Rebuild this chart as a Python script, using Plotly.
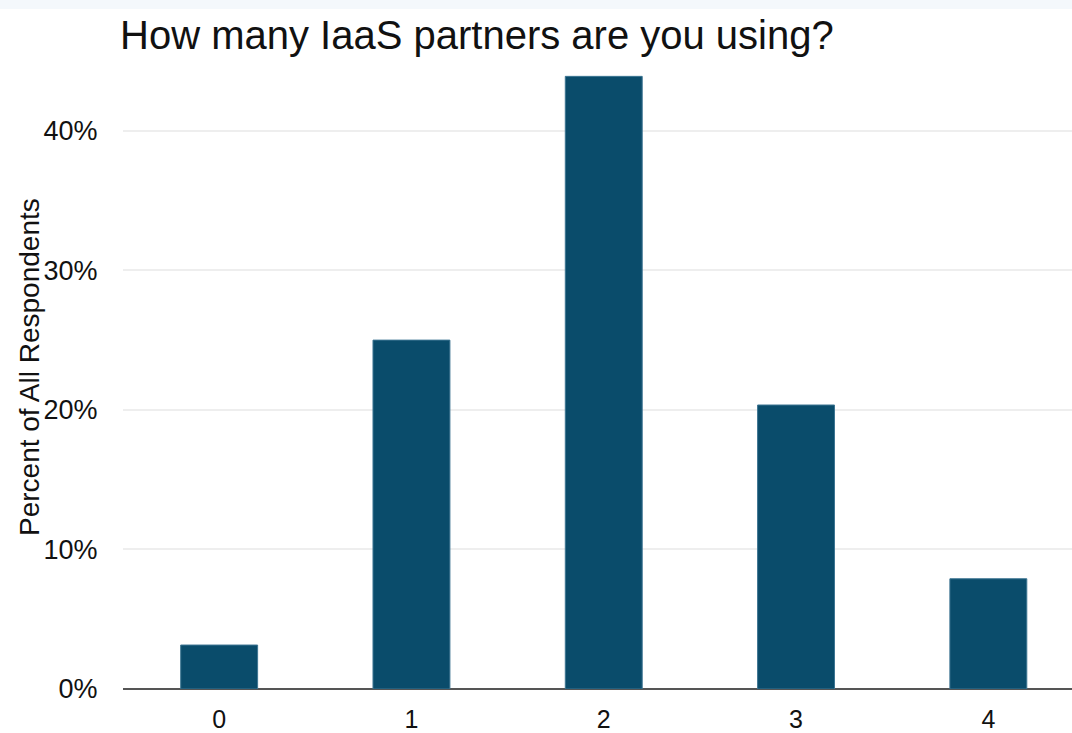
import plotly.graph_objects as go

categories = ["0", "1", "2", "3", "4"]
percent_values = [3.15, 25.0, 43.9, 20.35, 7.9]
y_tick_values = [0, 10, 20, 30, 40]
y_tick_labels = ["0%", "10%", "20%", "30%", "40%"]

FONT = "Liberation Sans, Arial, Helvetica, sans-serif"
W, H = 1072, 733
ml, mr, mt, mb = 123, 0, 68, 44
pw, ph = W - ml - mr, H - mt - mb

fig = go.Figure()
fig.add_trace(go.Bar(
    x=list(range(len(categories))),
    y=percent_values,
    width=0.4,
    marker=dict(color="#0a4c6b", line=dict(color="#3d7592", width=1)),
    hoverinfo="skip",
))

fig.update_layout(
    width=W, height=H,
    margin=dict(l=ml, r=mr, t=mt, b=mb, pad=0, autoexpand=False),
    paper_bgcolor="white",
    plot_bgcolor="white",
    showlegend=False,
    title=dict(
        text="How many IaaS partners are you using?",
        x=120 / W, xref="container", xanchor="left",
        y=1 - 35 / H, yref="container", yanchor="middle",
        font=dict(family=FONT, size=40, color="#111111"),
    ),
    xaxis=dict(
        range=[-0.5, 4.435],
        tickmode="array",
        tickvals=list(range(len(categories))),
        ticktext=categories,
        showgrid=False,
        zeroline=False,
        showline=False,
        ticks="outside",
        ticklen=8,
        tickcolor="rgba(0,0,0,0)",
        tickfont=dict(family=FONT, size=25, color="#111111"),
        automargin=False,
        fixedrange=True,
    ),
    yaxis=dict(
        range=[0, 44.5],
        tickmode="array",
        tickvals=y_tick_values,
        ticktext=y_tick_labels,
        showgrid=True,
        gridcolor="#eeeeee",
        gridwidth=2,
        zeroline=True,
        zerolinecolor="#555555",
        zerolinewidth=2,
        showline=False,
        ticks="outside",
        ticklen=19,
        tickcolor="rgba(0,0,0,0)",
        tickfont=dict(family=FONT, size=27, color="#111111"),
        automargin=False,
        fixedrange=True,
    ),
    annotations=[dict(
        text="Percent of All Respondents",
        textangle=-90,
        xref="paper", yref="paper",
        x=(29 - ml) / pw, y=(H - mb - 367) / ph,
        xanchor="center", yanchor="middle",
        showarrow=False,
        font=dict(family=FONT, size=28, color="#111111"),
    )],
    shapes=[dict(
        type="rect", xref="paper", yref="paper",
        x0=-ml / pw, x1=1,
        y0=(H - 9 - mb) / ph, y1=(H - mb) / ph,
        fillcolor="#f4f8fc", line=dict(width=0), layer="below",
    )],
)

fig.write_html("out.html", config={"displayModeBar": False},
               post_script="document.body.style.margin='0';")
